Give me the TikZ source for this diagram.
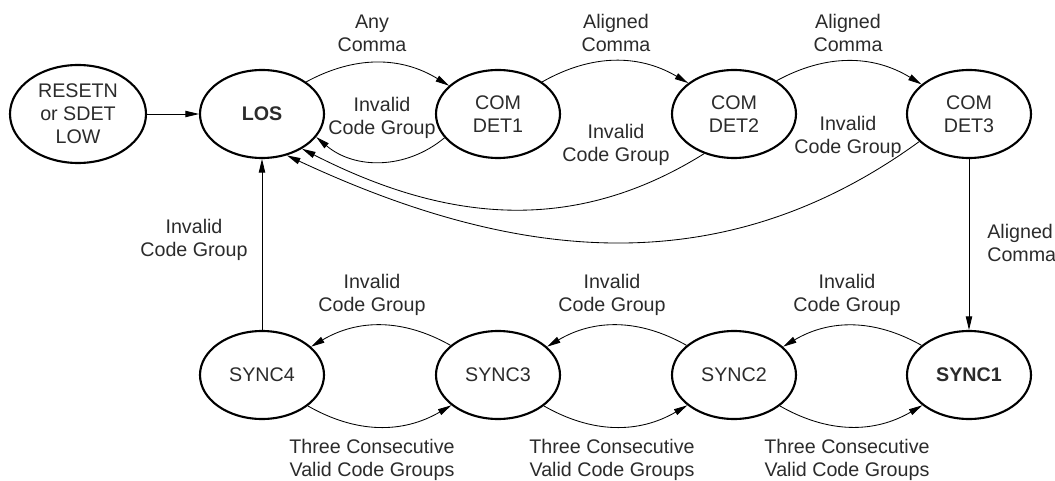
\documentclass[tikz,border=0pt]{standalone}
\usepackage{fontspec}
\setmainfont{Liberation Sans}
\usepackage{xcolor}
\usetikzlibrary{arrows.meta,shapes.geometric}
\definecolor{ink}{HTML}{2B2B2B}
\tikzset{
  >={Triangle[length=3.4mm,width=1.6mm]},
  state/.style={ellipse, draw=black, line width=1.5pt, minimum width=3.1cm, minimum height=2.2cm,
    inner sep=0pt, align=center, text=ink, font=\fontsize{14}{16.3}\selectfont},
  lbl/.style={align=center, inner sep=0pt, text=ink, font=\fontsize{14}{16.3}\selectfont},
  flow/.style={->, line width=.6pt, color=black}
}
\begin{document}
\begin{tikzpicture}[x=1cm,y=1cm]
  \useasboundingbox (0,0) rectangle (26.375,12);
  \node[state,minimum width=3.4cm,minimum height=2.45cm] (rst) at (1.95,9.15) {RESETN\\or SDET\\LOW};
  \node[state] (los) at (6.55,9.15) {\textbf{LOS}};
  \node[state] (det1) at (12.45,9.15) {COM\\DET1};
  \node[state] (det2) at (18.35,9.15) {COM\\DET2};
  \node[state] (det3) at (24.225,9.15) {COM\\DET3};

  \node[state] (sync4) at (6.55,2.625) {SYNC4};
  \node[state] (sync3) at (12.45,2.625) {SYNC3};
  \node[state] (sync2) at (18.35,2.625) {SYNC2};
  \node[state] (sync1) at (24.225,2.625) {\textbf{SYNC1}};

  \draw[flow] (rst) -- (los);
  \draw[flow] (los.36) to[bend left=30] (det1.150);
  \draw[flow] (det1.204) to[bend left=40] (los.337);
  \draw[flow] (det1.36) to[bend left=30] (det2.146);
  \draw[flow] (det2.38) to[bend left=30] (det3.148);
  \draw[flow] (det2.233) to[out=212,in=-27] (los.-41);
  \draw[flow] (det3.209) to[out=216,in=-25] (los.-59);
  \draw[flow] (det3) -- (sync1);
  \draw[flow] (sync4) -- (los);
  \foreach \a/\b in {sync1/sync2,sync2/sync3,sync3/sync4}{
    \draw[flow] (\a.148) to[bend right=30] (\b.30);
    \draw[flow] (\b.-34) to[bend right=30] (\a.213);
  }

  \node[lbl] (any) at (9.3,11.175) {Any\\Comma};
  \node[lbl] (inv0) at (9.55,9.05) {Invalid\\Code Group};
  \node[lbl] (al1) at (15.4,11.175) {Aligned\\Comma};
  \node[lbl] (al2) at (21.2,11.175) {Aligned\\Comma};
  \node[lbl] (invd2) at (15.4,8.375) {Invalid\\Code Group};
  \node[lbl] (invd3) at (21.2,8.575) {Invalid\\Code Group};
  \node[lbl,anchor=west,align=left] (al3) at (24.675,5.925) {Aligned\\Comma};
  \node[lbl] (invs4) at (4.85,6.0) {Invalid\\Code Group};
  \foreach \x [count=\i] in {9.3,15.3,21.175}{
    \node[lbl] (inv\i) at (\x,4.625) {Invalid\\Code Group};
    \node[lbl] (three\i) at (\x,0.5) {Three Consecutive\\Valid Code Groups};
  }
\end{tikzpicture}
\end{document}
